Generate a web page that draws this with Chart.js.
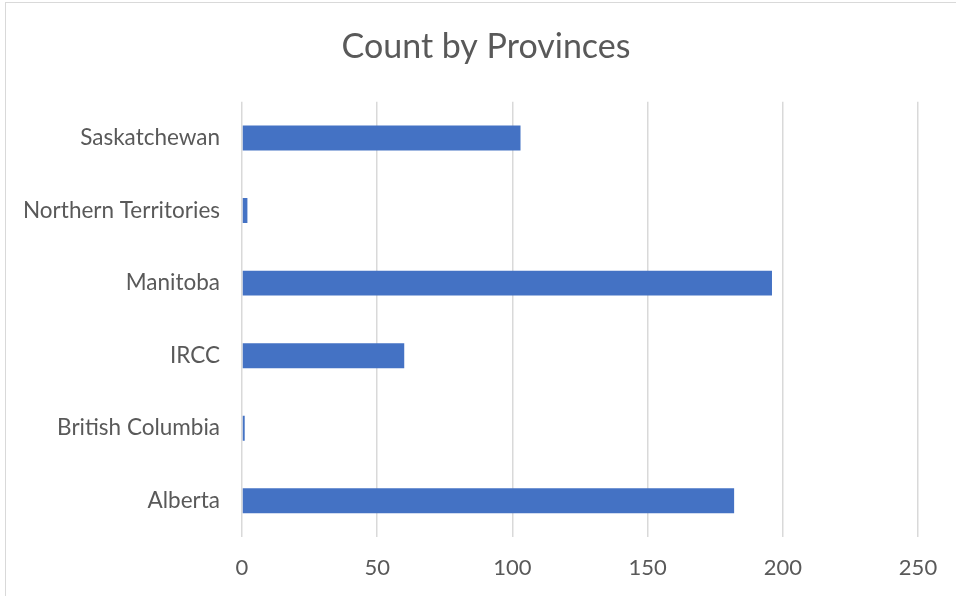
<!DOCTYPE html>
<html>
<head>
<meta charset="utf-8">
<script src="https://cdn.jsdelivr.net/npm/chart.js@4.4.0/dist/chart.umd.min.js"></script>
<style>
  html, body { margin: 0; padding: 0; background: #ffffff; }
  #wrap { position: relative; width: 956px; height: 596px; overflow: hidden; }
  #frame { position: absolute; left: 5px; top: 2px; width: 1000px; height: 1000px; border: 1px solid #d9d9d9; pointer-events: none; }
</style>
</head>
<body>
<div id="wrap">
  <canvas id="provinceChart" width="956" height="596"></canvas>
  <div id="frame"></div>
</div>
<script>
var provinceLabels = ["Saskatchewan", "Northern Territories", "Manitoba", "IRCC", "British Columbia", "Alberta"];
var provinceCounts = [103, 2, 196, 60, 1, 182];
var countTicks = [0, 50, 100, 150, 200, 250];

var textColor = "#595959";
var fontName = "Lato, 'Liberation Sans', sans-serif";

const dataProvinces = {
  labels: provinceLabels,
  datasets: [
    {
      label: "Count",
      data: provinceCounts,
      backgroundColor: "#4472c4",
      borderWidth: 0,
      barPercentage: 0.344,
      categoryPercentage: 1,
    },
  ],
};

// title is centred a bit right of the canvas middle in the original
var shiftTitle = {
  id: "shiftTitle",
  afterLayout: function(chart) {
    if (chart.titleBlock) chart.titleBlock.left = 54;
  },
};

const configProvinces = {
  type: "bar",
  data: dataProvinces,
  plugins: [shiftTitle],
  options: {
    indexAxis: "y",
    responsive: false,
    animation: false,
    layout: { padding: { left: 0, right: 38, top: 0, bottom: 0 } },
    scales: {
      x: {
        min: countTicks[0],
        max: countTicks[countTicks.length - 1],
        afterBuildTicks: function(scale) {
          scale.ticks = countTicks.map(function(v) { return { value: v }; });
        },
        afterFit: function(scale) { scale.height = 59; },
        grid: { color: "#d9d9d9", lineWidth: 1.5, drawTicks: false },
        border: { display: false },
        ticks: { color: textColor, padding: 18, font: { family: fontName, size: 22 } },
      },
      y: {
        afterFit: function(scale) { scale.width = 242; },
        grid: { display: false, drawTicks: false },
        border: { display: false },
        ticks: { color: textColor, padding: 22, font: { family: fontName, size: 22.5 } },
      },
    },
    plugins: {
      legend: { display: false },
      tooltip: { enabled: false },
      title: {
        display: true,
        text: "Count by Provinces",
        color: textColor,
        font: { family: fontName, size: 34, weight: "normal" },
        padding: { top: 27, bottom: 34 },
      },
    },
  },
};

var provinceChart = new Chart(document.getElementById("provinceChart"), configProvinces);
</script>
</body>
</html>
